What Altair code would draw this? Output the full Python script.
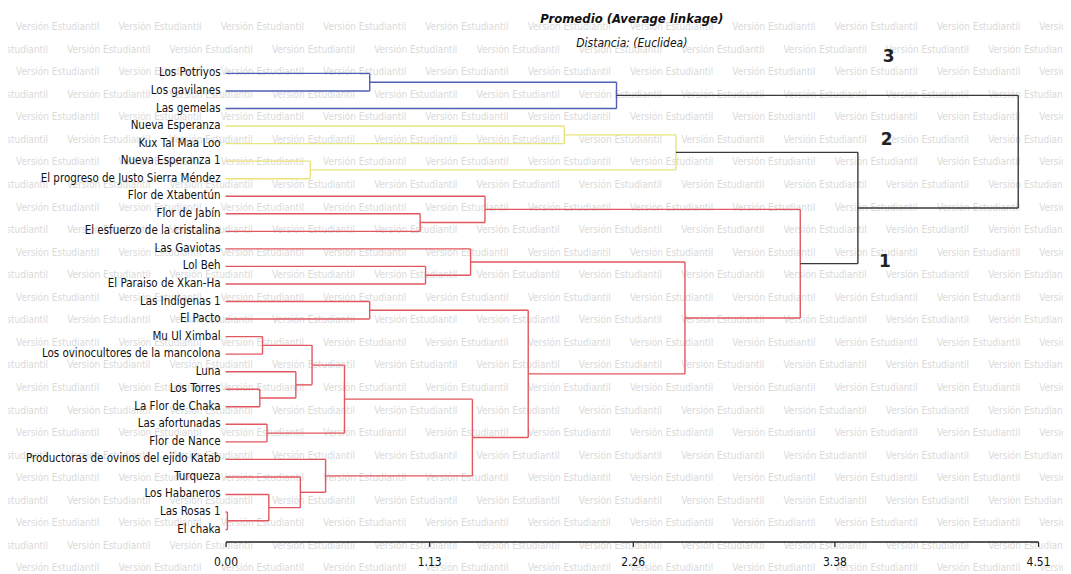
import altair as alt
import pandas as pd

# ---- data ----
leaves = [
    "Los Potriyos", "Los gavilanes", "Las gemelas", "Nueva Esperanza",
    "Kux Tal Maa Loo", "Nueva Esperanza 1", "El progreso de Justo Sierra Méndez",
    "Flor de Xtabentún", "Flor de Jabín", "El esfuerzo de la cristalina",
    "Las Gaviotas", "Lol Beh", "El Paraiso de Xkan-Ha", "Las Indígenas 1",
    "El Pacto", "Mu Ul Ximbal", "Los ovinocultores de la mancolona", "Luna",
    "Los Torres", "La Flor de Chaka", "Las afortunadas", "Flor de Nance",
    "Productoras de ovinos del ejido Katab", "Turqueza", "Los Habaneros",
    "Las Rosas 1", "El chaka",
]

# merges: node id, left child, right child, merge distance, colour group
merge_id = ["N1", "N2", "N3", "N4", "N5", "N6", "N7", "N8", "N9", "N10", "N11",
            "N12", "N13", "N14", "N15", "N16", "N17", "N18", "N19", "N20",
            "N21", "N22", "N23", "N24", "N25", "N26"]
merge_left = ["Los Potriyos", "N1", "Nueva Esperanza", "Nueva Esperanza 1", "N3",
              "Flor de Jabín", "Flor de Xtabentún", "Lol Beh", "Las Gaviotas",
              "Las Indígenas 1", "Mu Ul Ximbal", "Los Torres", "Luna", "N11",
              "Las afortunadas", "N14", "Las Rosas 1", "Los Habaneros", "Turqueza",
              "Productoras de ovinos del ejido Katab", "N16", "N10", "N9", "N7",
              "N5", "N2"]
merge_right = ["Los gavilanes", "Las gemelas", "Kux Tal Maa Loo",
               "El progreso de Justo Sierra Méndez", "N4",
               "El esfuerzo de la cristalina", "N6", "El Paraiso de Xkan-Ha", "N8",
               "El Pacto", "Los ovinocultores de la mancolona", "La Flor de Chaka",
               "N12", "N13", "Flor de Nance", "N15", "El chaka", "N17", "N18",
               "N19", "N20", "N21", "N22", "N23", "N24", "N25"]
merge_height = [0.80, 2.17, 1.88, 0.47, 2.50, 1.08, 1.44, 1.11, 1.36, 0.80, 0.205,
                0.19, 0.39, 0.48, 0.23, 0.66, 0.01, 0.24, 0.415, 0.555, 1.37,
                1.68, 2.55, 3.19, 3.51, 4.40]
merge_group = ["3", "3", "2", "2", "2", "1", "1", "1", "1", "1", "1", "1", "1",
               "1", "1", "1", "1", "1", "1", "1", "1", "1", "1", "1", "0", "0"]

cluster_labels = ["3", "2", "1"]
cluster_x = [3.68, 3.67, 3.66]
cluster_y = [-0.91, 3.81, 10.75]

axis_ticks = [0.0, 1.13, 2.26, 3.38, 4.51]

group_domain = ["3", "2", "1", "0"]
group_colors = ["#4f5fb5", "#e9e47c", "#e2575f", "#3a3a3a"]

# background watermark of the software's student edition
watermark_text = "Versión Estudiantil"
wm_period_x = 0.568      # distance units between repeats along a row
wm_period_y = 1.2856     # leaf steps between rows
wm_first_x = -1.163
wm_first_y = -3.925

# ---- build bracket segments through the merge table ----
pos = {name: float(i) for i, name in enumerate(leaves)}
hgt = {name: 0.0 for name in leaves}
rows = []
for nid, l, r, h, g in zip(merge_id, merge_left, merge_right, merge_height, merge_group):
    yl, yr = pos[l], pos[r]
    rows.append({"x": h, "x2": h, "y": yl, "y2": yr, "grp": g})
    rows.append({"x": hgt[l], "x2": h, "y": yl, "y2": yl, "grp": g})
    rows.append({"x": hgt[r], "x2": h, "y": yr, "y2": yr, "grp": g})
    pos[nid] = (yl + yr) / 2
    hgt[nid] = h
seg = pd.DataFrame(rows)

leaf_df = pd.DataFrame({"name": leaves, "idx": list(range(len(leaves))), "x": 0.0})
clu_df = pd.DataFrame({"lab": cluster_labels, "x": cluster_x, "y": cluster_y})

wm_rows = []
for k in range(26):
    shift = 0.0 if k % 2 == 1 else -wm_period_x / 2
    for n in range(12):
        wm_rows.append({"t": watermark_text,
                        "x": wm_first_x + shift + n * wm_period_x,
                        "y": wm_first_y + k * wm_period_y})
wm_df = pd.DataFrame(wm_rows)

FONT = "Liberation Sans Narrow, Arial Narrow, DejaVu Sans Condensed, Liberation Sans, sans-serif"

xscale = alt.Scale(domain=[0, 4.51], nice=False, zero=False)
yscale = alt.Scale(domain=[-0.74, 26.68], reverse=True, nice=False, zero=False)

x_axis = alt.Axis(values=axis_ticks, format=".2f", title=None, grid=False,
                  domainColor="#222222", domainWidth=1.6, tickColor="#222222",
                  tickSize=5, tickWidth=1.2, labelFont=FONT, labelFontSize=12,
                  labelColor="#111111", labelPadding=10, labelFlush=False,
                  zindex=1)

watermark = alt.Chart(wm_df).mark_text(
    align="left", baseline="middle", font=FONT, fontSize=10, color="#dadada"
).encode(
    x=alt.X("x:Q", scale=xscale, axis=x_axis),
    y=alt.Y("y:Q", scale=yscale, axis=None),
    text="t:N",
)

lines = alt.Chart(seg).mark_rule(strokeWidth=1.4).encode(
    x=alt.X("x:Q", scale=xscale, axis=x_axis),
    x2="x2:Q",
    y=alt.Y("y:Q", scale=yscale, axis=None),
    y2="y2:Q",
    color=alt.Color("grp:N", scale=alt.Scale(domain=group_domain, range=group_colors),
                    legend=None),
)

labels = alt.Chart(leaf_df).mark_text(
    align="right", baseline="middle", dx=-5, font=FONT, fontSize=11.5, color="#111111"
).encode(
    x=alt.X("x:Q", scale=xscale, axis=x_axis),
    y=alt.Y("idx:Q", scale=yscale, axis=None),
    text="name:N",
)

clusters = alt.Chart(clu_df).mark_text(
    align="center", baseline="middle", font="DejaVu Sans", fontSize=17,
    fontWeight="bold", color="#222222"
).encode(
    x=alt.X("x:Q", scale=xscale, axis=x_axis),
    y=alt.Y("y:Q", scale=yscale, axis=None),
    text="lab:N",
)

chart = alt.layer(watermark, lines, labels, clusters).properties(
    width=814,
    height=482,
    autosize=alt.AutoSizeParams(type="none"),
    padding={"left": 218, "top": 52, "right": 25, "bottom": 32},
    title=alt.TitleParams(
        "Promedio (Average linkage)",
        subtitle="Distancia: (Euclidea)",
        font=FONT, fontSize=13, fontStyle="italic", fontWeight="bold", color="#111111",
        subtitleFont=FONT, subtitleFontSize=12, subtitleFontStyle="italic",
        subtitleColor="#111111", subtitlePadding=13,
        anchor="middle", frame="group", offset=-50,
    ),
).configure(background="white").configure_view(strokeWidth=0)

chart.save("out.html", embed_options={"renderer": "svg", "actions": False})
